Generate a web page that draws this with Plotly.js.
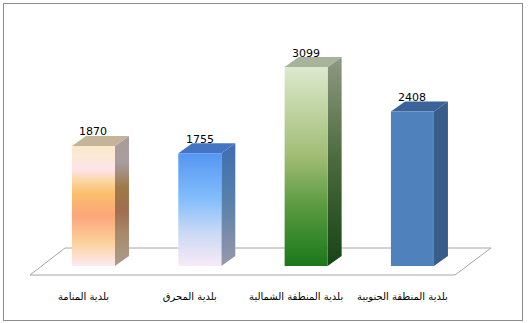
<!DOCTYPE html>
<html>
<head>
<meta charset="utf-8">
<script src="https://cdn.plot.ly/plotly-3.0.1.min.js"></script>
<style>
  html, body { margin:0; padding:0; background:#fff; }
  #chart { position:absolute; left:0; top:0; width:529px; height:323px; }
  #frame { position:absolute; left:3px; top:3px; width:518px; height:316px; border:1px solid #8c8c8c; pointer-events:none; }
</style>
</head>
<body>
<div id="chart"></div>
<div id="frame"></div>
<script>
// ---- data ----
const categories = ["بلدية المنامة", "بلدية المحرق", "بلدية المنطقة الشمالية", "بلدية المنطقة الجنوبية"];
const values = [1870, 1755, 3099, 2408];

// ---- styles (0 = bottom, 1 = top) ----
const frontScales = [
  [[0,"#fdeaf2"],[0.2,"#fcd09a"],[0.42,"#fba679"],[0.6,"#fbbe6c"],[0.72,"#fcd8a8"],[0.8,"#fde3ea"],[0.9,"#fce8d6"],[1,"#fce8cc"]],
  [[0,"#f8eaf8"],[0.3,"#c9d9f4"],[0.6,"#82bdfc"],[1,"#5596f2"]],
  [[0,"#1a781a"],[0.3,"#5a9a40"],[0.55,"#a0bc74"],[1,"#dde9cd"]],
  [[0,"#4f81bd"],[1,"#4f81bd"]]
];
const sideScales = [
  [[0,"#ad9c8c"],[0.25,"#a88a6a"],[0.42,"#a06e50"],[0.6,"#a07848"],[0.8,"#a89ca2"],[1,"#a89e94"]],
  [[0,"#9a98aa"],[0.5,"#5a82aa"],[1,"#3e6db2"]],
  [[0,"#164416"],[0.5,"#4a6a3a"],[1,"#8f9a84"]],
  [[0,"#385d8a"],[1,"#385d8a"]]
];
const topColors = ["#c4b59a", "#4574c4", "#a7b39b", "#3c6399"];

// ---- geometry in axis units ----
const xRange = [-0.691, 3.908];
const yRange = [-296, 3832];
const plotW = 489, plotH = 265;
const pxX = plotW / (xRange[1] - xRange[0]);
const pxY = plotH / (yRange[1] - yRange[0]);
const barW = 43 / pxX;
const dx = 14 / pxX;
const dy = 10 / pxY;

const traces = [];
values.forEach((v, i) => {
  const l = i - barW / 2, r = i + barW / 2;
  // side face
  traces.push({
    type: "scatter", mode: "lines", fill: "toself",
    x: [r, r + dx, r + dx, r, r], y: [0, dy, v + dy, v, 0],
    line: { width: 0 }, fillgradient: { type: "vertical", colorscale: sideScales[i] },
    hoverinfo: "skip", showlegend: false
  });
  // top face
  traces.push({
    type: "scatter", mode: "lines", fill: "toself",
    x: [l, l + dx, r + dx, r, l], y: [v, v + dy, v + dy, v, v],
    line: { width: 0 }, fillcolor: topColors[i],
    hoverinfo: "skip", showlegend: false
  });
  // front face
  traces.push({
    type: "scatter", mode: "lines", fill: "toself",
    x: [l, r, r, l, l], y: [0, 0, v, v, 0],
    line: { width: 0 }, fillgradient: { type: "vertical", colorscale: frontScales[i] },
    hoverinfo: "skip", showlegend: false
  });
});

// floor parallelogram (pixel-based offsets converted to axis units)
const fl = [
  [(30 - 20) / pxX + xRange[0], -9 / pxY],
  [(65 - 20) / pxX + xRange[0], 18 / pxY],
  [(491 - 20) / pxX + xRange[0], 18 / pxY],
  [(455 - 20) / pxX + xRange[0], -9 / pxY]
];
const floorPath = "M" + fl.map(p => p[0] + "," + p[1]).join(" L") + " Z";

const annotations = values.map((v, i) => ({
  x: i, y: v, xref: "x", yref: "y", text: String(v), showarrow: false,
  yanchor: "middle", yshift: 14, font: { family: "DejaVu Sans, sans-serif", size: 11, color: "#000" }
}));

const layout = {
  width: 529, height: 323,
  margin: { l: 20, r: 20, t: 20, b: 38 },
  paper_bgcolor: "#fff", plot_bgcolor: "rgba(0,0,0,0)",
  showlegend: false,
  xaxis: {
    range: xRange, fixedrange: true, showgrid: false, zeroline: false, showline: false,
    tickmode: "array", tickvals: categories.map((c, i) => i), ticktext: categories,
    ticks: "", ticklabelshift: -10, ticklabelstandoff: 4, automargin: false,
    tickfont: { family: "DejaVu Sans, sans-serif", size: 10, color: "#000" }
  },
  yaxis: {
    range: yRange, fixedrange: true, showgrid: false, zeroline: false, showline: false,
    showticklabels: false, ticks: "", automargin: false
  },
  shapes: [{
    type: "path", xref: "x", yref: "y", path: floorPath, layer: "below",
    line: { color: "#a6a6a6", width: 1 }, fillcolor: "#ffffff"
  }],
  annotations: annotations
};

Plotly.newPlot("chart", traces, layout, { displayModeBar: false, staticPlot: true });
</script>
</body>
</html>
